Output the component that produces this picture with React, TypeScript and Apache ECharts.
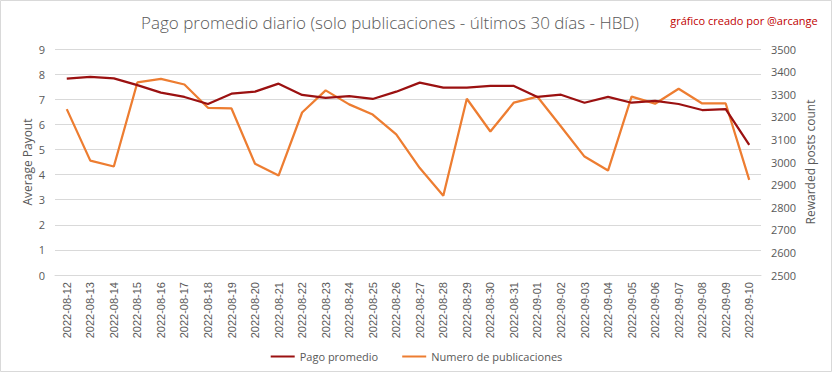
import React, { useEffect, useRef } from "react";
import * as echarts from "echarts";

const dates = [
  "2022-08-12", "2022-08-13", "2022-08-14", "2022-08-15", "2022-08-16", "2022-08-17",
  "2022-08-18", "2022-08-19", "2022-08-20", "2022-08-21", "2022-08-22", "2022-08-23",
  "2022-08-24", "2022-08-25", "2022-08-26", "2022-08-27", "2022-08-28", "2022-08-29",
  "2022-08-30", "2022-08-31", "2022-09-01", "2022-09-02", "2022-09-03", "2022-09-04",
  "2022-09-05", "2022-09-06", "2022-09-07", "2022-09-08", "2022-09-09", "2022-09-10",
];

const pagoPromedio = [
  7.82, 7.89, 7.83, 7.56, 7.26, 7.09, 6.81, 7.22, 7.30, 7.62,
  7.17, 7.05, 7.12, 7.01, 7.30, 7.66, 7.46, 7.46, 7.53, 7.53,
  7.09, 7.18, 6.86, 7.09, 6.86, 6.93, 6.81, 6.57, 6.61, 5.18,
];

const numeroPublicaciones = [
  3234, 3006, 2980, 3352, 3368, 3343, 3240, 3237, 2992, 2940,
  3219, 3317, 3255, 3210, 3122, 2973, 2851, 3280, 3135, 3263,
  3289, 3157, 3024, 2962, 3289, 3258, 3324, 3259, 3259, 2921,
];

const titleText = "Pago promedio diario (solo publicaciones - últimos 30 días - HBD)";
const creditText = "gráfico creado por @arcange";

export default function App() {
  const ref = useRef<HTMLDivElement>(null);
  useEffect(() => {
    if (!ref.current) return;
    const chart = echarts.init(ref.current, null, { renderer: "svg" });
    const font = "'Open Sans', sans-serif";
    chart.setOption({
      animation: false,
      backgroundColor: "#ffffff",
      graphic: [
        {
          type: "rect",
          shape: { x: 0.5, y: 0.5, width: 831, height: 371 },
          style: { fill: "none", stroke: "#d9d9d9", lineWidth: 1 },
          silent: true,
        },
        {
          type: "text",
          x: 390,
          y: 22,
          style: {
            text: titleText,
            fill: "#595959",
            font: "300 17px " + font,
            textAlign: "center",
            textVerticalAlign: "middle",
          },
        },
        {
          type: "text",
          x: 744,
          y: 20,
          style: {
            text: creditText,
            fill: "#c00000",
            font: "11px " + font,
            textAlign: "center",
            textVerticalAlign: "middle",
          },
        },
      ],
      legend: {
        bottom: 12,
        left: "center",
        itemGap: 24,
        itemWidth: 24,
        itemHeight: 2,
        icon: "rect",
        textStyle: { color: "#595959", fontSize: 11, fontFamily: font },
        data: ["Pago promedio", "Numero de publicaciones"],
      },
      grid: { left: 55, right: 72, top: 49, bottom: 104, containLabel: false },
      xAxis: {
        type: "category",
        data: dates,
        boundaryGap: true,
        axisLine: { lineStyle: { color: "#d9d9d9" } },
        axisTick: { show: false },
        axisLabel: {
          rotate: 90,
          color: "#595959",
          fontSize: 11,
          fontFamily: "'Liberation Sans', sans-serif",
          margin: 7,
          interval: 0,
        },
      },
      yAxis: [
        {
          type: "value",
          min: 0,
          max: 9,
          interval: 1,
          name: "Average Payout",
          nameLocation: "middle",
          nameGap: 22,
          nameMoveOverlap: false,
          nameTextStyle: { color: "#595959", fontSize: 12, fontFamily: font },
          axisLine: { show: false },
          axisTick: { show: false },
          axisLabel: { color: "#595959", fontSize: 11, fontFamily: font, margin: 10 },
          splitLine: { lineStyle: { color: "#d9d9d9", width: 1 } },
        },
        {
          type: "value",
          min: 2500,
          max: 3500,
          interval: 100,
          name: "Rewarded posts count",
          nameLocation: "middle",
          nameGap: 43,
          nameMoveOverlap: false,
          nameRotate: 90,
          nameTextStyle: { color: "#595959", fontSize: 12, fontFamily: font },
          axisLine: { show: false },
          axisTick: { show: false },
          axisLabel: {
            color: "#595959",
            fontSize: 11,
            fontFamily: font,
            margin: 10,
            formatter: (v: number) => String(v),
          },
          splitLine: { show: false },
        },
      ],
      series: [
        {
          name: "Pago promedio",
          type: "line",
          data: pagoPromedio,
          yAxisIndex: 0,
          showSymbol: false,
          symbol: "none",
          lineStyle: { color: "#9b1111", width: 2.25 },
          itemStyle: { color: "#9b1111" },
          z: 3,
        },
        {
          name: "Numero de publicaciones",
          type: "line",
          data: numeroPublicaciones,
          yAxisIndex: 1,
          showSymbol: false,
          symbol: "none",
          lineStyle: { color: "#ed7d31", width: 2.25 },
          itemStyle: { color: "#ed7d31" },
          z: 2,
        },
      ],
    });
    return () => chart.dispose();
  }, []);
  return (
    <div
      ref={ref}
      style={{ position: "fixed", left: 0, top: 0, width: 833, height: 379 }}
    />
  );
}
